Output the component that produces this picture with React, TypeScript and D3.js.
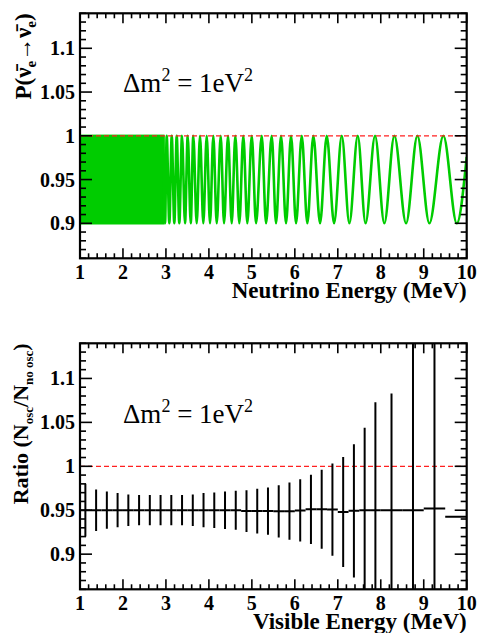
import React, { useEffect, useRef } from "react";
import * as d3 from "d3";

// shared axis ranges
const xDomain = [1, 10];
const yDomain = [0.86, 1.14];

// top panel: survival probability, minima / maxima (MeV)
const troughE = [
  2.979, 3.079, 3.195, 3.311, 3.444, 3.577, 3.716, 3.87, 4.026, 4.182, 4.352,
  4.531, 4.708, 4.894, 5.097, 5.33, 5.562, 5.795, 6.028, 6.291, 6.587, 6.913,
  7.269, 7.646, 8.083, 8.589, 9.131, 9.769,
];
const peakE = [
  2.94, 3.018, 3.135, 3.251, 3.374, 3.507, 3.637, 3.793, 3.949, 4.103, 4.275,
  4.445, 4.615, 4.801, 4.997, 5.23, 5.462, 5.679, 5.912, 6.161, 6.431, 6.743,
  7.092, 7.464, 7.867, 8.316, 8.852, 9.457,
];
const probMinMax = [0.9, 1.0];
const curveEnd = [10, 0.976];
// below ~2.94 MeV the oscillations are too fast to resolve: solid band
const denseBandE = [1, 2.94];

// bottom panel: ratio histogram
const binEdges = [
  1, 1.25, 1.5, 1.75, 2, 2.25, 2.5, 2.75, 3, 3.25, 3.5, 3.75, 4, 4.25, 4.5,
  4.75, 5, 5.25, 5.5, 5.75, 6, 6.25, 6.5, 6.75, 7, 7.25, 7.5, 7.75, 8, 8.5, 9,
  9.5, 10,
];
const ratio = [
  0.95, 0.95, 0.95, 0.95, 0.95, 0.95, 0.95, 0.95, 0.95, 0.95, 0.95, 0.95, 0.95,
  0.95, 0.95, 0.949, 0.949, 0.949, 0.9487, 0.9489, 0.9498, 0.951, 0.9512,
  0.9508, 0.948, 0.9493, 0.95, 0.95, 0.95, 0.95, 0.952, 0.9425,
];
const ratioErr = [
  0.03, 0.0237, 0.0212, 0.0195, 0.018, 0.0172, 0.0172, 0.0172, 0.0172, 0.0172,
  0.018, 0.0195, 0.0203, 0.0214, 0.0222, 0.0237, 0.0254, 0.0269, 0.0297, 0.0326,
  0.0354, 0.0394, 0.045, 0.0525, 0.0627, 0.0758, 0.094, 0.123, 0.133, 0.26, 0.3,
  0,
];
const refLine = 1.0;

const FONT = '"Liberation Serif", "DejaVu Serif", "Times New Roman", serif';
const GREEN = "#00cc00";

const App = () => {
  const ref = useRef<SVGSVGElement>(null);

  useEffect(() => {
    const svg = d3.select(ref.current);
    svg.selectAll("*").remove();

    const x = d3.scaleLinear().domain(xDomain).range([80, 466.7]);
    const yTop = d3.scaleLinear().domain(yDomain).range([258.3, 13.3]);
    const yBot = d3.scaleLinear().domain(yDomain).range([589.3, 343.3]);

    const defs = svg.append("defs");
    const addClip = (id: string, y: any) => {
      const [b, t] = y.range();
      defs
        .append("clipPath")
        .attr("id", id)
        .append("rect")
        .attr("x", x.range()[0])
        .attr("y", t)
        .attr("width", x.range()[1] - x.range()[0])
        .attr("height", b - t);
    };
    addClip("clipTop", yTop);
    addClip("clipBot", yBot);

    const drawFrame = (y: any, labelBase: number) => {
      const [x0, x1] = x.range();
      const [yb, yt] = y.range();
      const g = svg.append("g");
      const tk = g.append("g").attr("stroke", "#000").attr("stroke-width", 1.6);
      x.ticks(45).forEach((t) => {
        const major = Math.abs(t - Math.round(t)) < 1e-6;
        const len = major ? 10 : 5;
        const px = x(t);
        tk.append("line").attr("x1", px).attr("x2", px).attr("y1", yb).attr("y2", yb - len);
        tk.append("line").attr("x1", px).attr("x2", px).attr("y1", yt).attr("y2", yt + len);
      });
      y.ticks(28).forEach((t: number) => {
        const major = Math.abs(t * 20 - Math.round(t * 20)) < 1e-6;
        const len = major ? 12 : 6;
        const py = y(t);
        tk.append("line").attr("x1", x0).attr("x2", x0 + len).attr("y1", py).attr("y2", py);
        tk.append("line").attr("x1", x1).attr("x2", x1 - len).attr("y1", py).attr("y2", py);
      });
      g.append("rect")
        .attr("x", x0)
        .attr("y", yt)
        .attr("width", x1 - x0)
        .attr("height", yb - yt)
        .attr("fill", "none")
        .attr("stroke", "#000")
        .attr("stroke-width", 2.2);

      const lab = g
        .append("g")
        .style("font-family", FONT)
        .style("font-weight", "bold")
        .style("font-size", "20px");
      x.ticks(9).forEach((t) => {
        lab.append("text").attr("x", x(t)).attr("y", labelBase).attr("text-anchor", "middle").text(String(t));
      });
      y.ticks(6).forEach((t: number) => {
        lab.append("text").attr("x", 75).attr("y", y(t) + 7).attr("text-anchor", "end").text(String(t));
      });
    };

    const refDash = (y: any) => {
      svg
        .append("line")
        .attr("x1", x.range()[0])
        .attr("x2", x.range()[1])
        .attr("y1", y(refLine))
        .attr("y2", y(refLine))
        .attr("stroke", "#ff2020")
        .attr("stroke-width", 1.3)
        .attr("stroke-dasharray", "5,3");
    };

    const deltaLabel = (baseY: number) => {
      const t = svg
        .append("text")
        .attr("x", 123)
        .attr("y", baseY)
        .style("font-family", FONT)
        .style("font-size", "27px");
      t.append("tspan").text("\u0394m");
      t.append("tspan").style("font-size", "18px").attr("dy", -11).text("2");
      t.append("tspan").attr("dy", 11).text(" = 1eV");
      t.append("tspan").style("font-size", "18px").attr("dy", -11).text("2");
    };

    // ---- top panel ----
    const pts = [
      ...troughE.map((e) => [e, probMinMax[0]]),
      ...peakE.map((e) => [e, probMinMax[1]]),
      curveEnd,
    ].sort((a, b) => a[0] - b[0]);

    const top = svg.append("g").attr("clip-path", "url(#clipTop)");
    top
      .append("rect")
      .attr("x", x(denseBandE[0]))
      .attr("y", yTop(probMinMax[1]))
      .attr("width", x(denseBandE[1]) - x(denseBandE[0]))
      .attr("height", yTop(probMinMax[0]) - yTop(probMinMax[1]))
      .attr("fill", GREEN)
      .attr("stroke", GREEN)
      .attr("stroke-width", 2.4);
    const line = d3
      .line<number[]>()
      .x((d) => x(d[0]))
      .y((d) => yTop(d[1]))
      .curve(d3.curveMonotoneX);
    top
      .append("path")
      .attr("d", line(pts))
      .attr("fill", "none")
      .attr("stroke", GREEN)
      .attr("stroke-width", 2.6);
    refDash(yTop);
    drawFrame(yTop, 279);
    deltaLabel(91.7);

    // ---- bottom panel ----
    const bins = ratio.map((v, i) => ({
      lo: binEdges[i],
      hi: binEdges[i + 1],
      v,
      e: ratioErr[i],
    }));
    refDash(yBot);
    const bot = svg
      .append("g")
      .attr("clip-path", "url(#clipBot)")
      .attr("stroke", "#000")
      .attr("stroke-width", 2);
    bot
      .selectAll("line.h")
      .data(bins)
      .join("line")
      .attr("class", "h")
      .attr("x1", (d) => x(d.lo))
      .attr("x2", (d) => x(d.hi))
      .attr("y1", (d) => yBot(d.v))
      .attr("y2", (d) => yBot(d.v));
    bot
      .selectAll("line.v")
      .data(bins.filter((d) => d.e > 0))
      .join("line")
      .attr("class", "v")
      .attr("x1", (d) => x((d.lo + d.hi) / 2))
      .attr("x2", (d) => x((d.lo + d.hi) / 2))
      .attr("y1", (d) => yBot(d.v - d.e))
      .attr("y2", (d) => yBot(d.v + d.e));
    drawFrame(yBot, 610);
    deltaLabel(423.3);

    // ---- axis titles ----
    const title = (tx: number, ty: number, txt: string) =>
      svg
        .append("text")
        .attr("x", tx)
        .attr("y", ty)
        .attr("text-anchor", "end")
        .style("font-family", FONT)
        .style("font-weight", "bold")
        .style("font-size", "23px")
        .text(txt);
    title(466.7, 297.5, "Neutrino Energy (MeV)");
    title(466.7, 629, "Visible Energy (MeV)");

    const py = svg
      .append("text")
      .attr("transform", "translate(31,13.3) rotate(-90)")
      .attr("text-anchor", "end")
      .style("font-family", FONT)
      .style("font-weight", "bold")
      .style("font-size", "23px");
    py.append("tspan").text("P(\u03bd\u0304");
    py.append("tspan").style("font-size", "15px").attr("dy", 5).text("e");
    py.append("tspan").attr("dy", -5).text("\u2192\u03bd\u0304");
    py.append("tspan").style("font-size", "15px").attr("dy", 5).text("e");
    py.append("tspan").attr("dy", -5).text(")");

    const ry = svg
      .append("text")
      .attr("transform", "translate(28,343.3) rotate(-90)")
      .attr("text-anchor", "end")
      .style("font-family", FONT)
      .style("font-weight", "bold")
      .style("font-size", "22px");
    ry.append("tspan").text("Ratio (N");
    ry.append("tspan").style("font-size", "13px").attr("dy", 5).text("osc");
    ry.append("tspan").attr("dy", -5).text("/N");
    ry.append("tspan").style("font-size", "13px").attr("dy", 5).text("no osc");
    ry.append("tspan").attr("dy", -5).text(")");
  }, []);

  return (
    <svg
      ref={ref}
      width={482}
      height={633}
      style={{ position: "absolute", left: 0, top: 0, background: "#fff" }}
    ></svg>
  );
};

export default App;
